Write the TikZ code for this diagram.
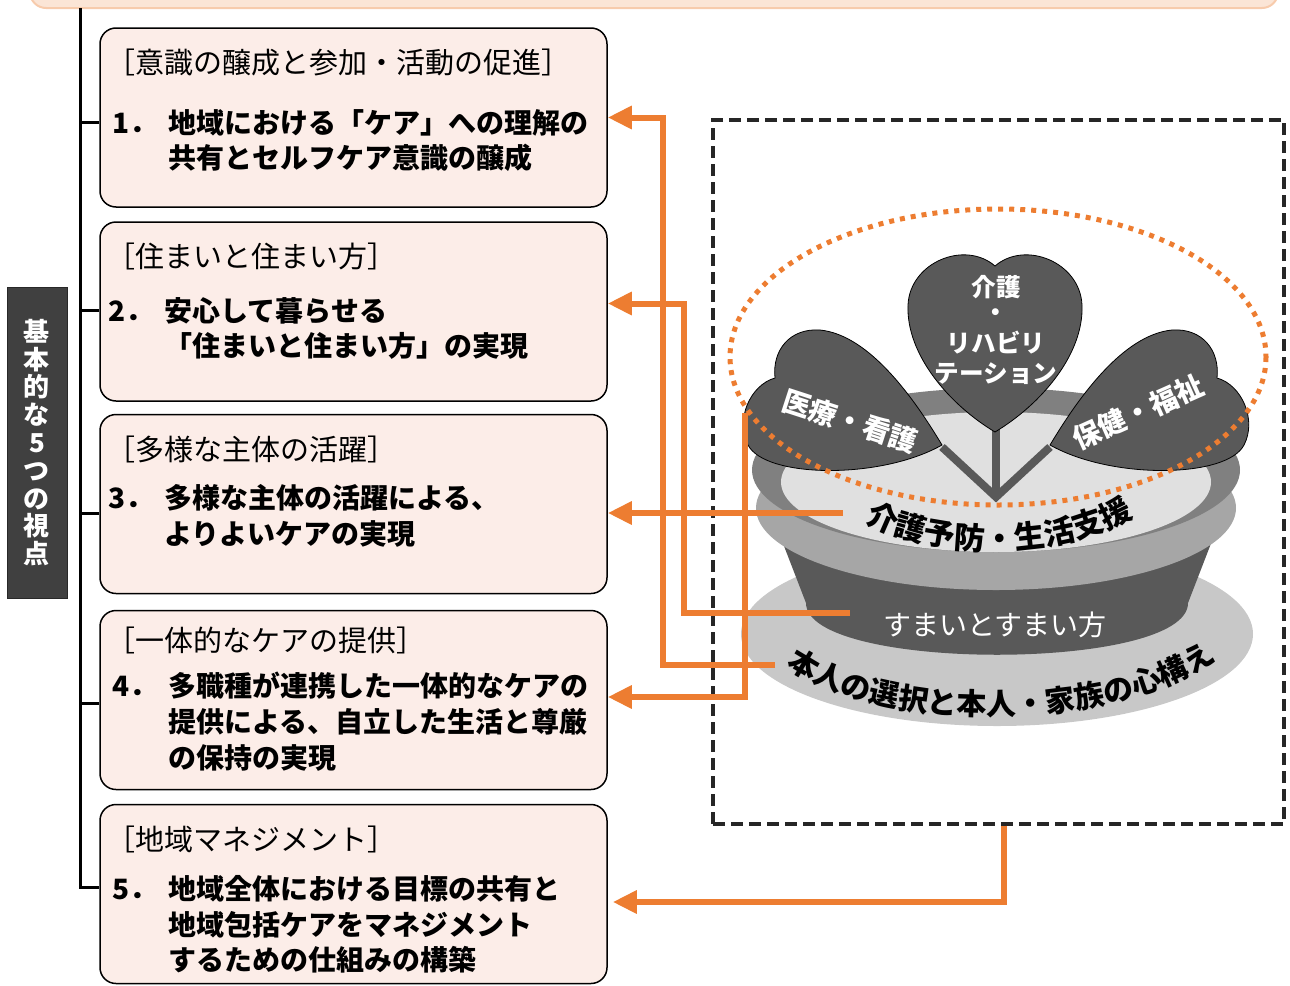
\documentclass[tikz,border=0pt]{standalone}
\usepackage{fontspec}
\setmainfont{Noto Sans CJK JP}
\usetikzlibrary{arrows.meta,calc,decorations.text}
\newcommand{\itemno}[1]{\makebox[2em][l]{#1}}
\newcommand{\indentno}{\hspace*{2em}}

\begin{document}
\begin{tikzpicture}[x=0.5pt,y=0.5pt,yscale=-1,xscale=1,
  box/.style={draw, line width=0.75pt, rounded corners=8pt, fill={rgb, 255:red, 252; green, 237; blue, 232}, minimum width=253.5pt, minimum height=89.5pt, inner sep=0pt},
  head/.style={anchor=west, inner sep=0pt, font=\fontsize{14.5}{16}\selectfont},
  point/.style={anchor=north west, inner sep=0pt, align=left, font=\bfseries\fontsize{14}{17.8}\selectfont},
  spine/.style={line width=1.5pt},
  flow/.style={draw={rgb, 255:red, 237; green, 125; blue, 49}, line width=3pt, -{Triangle[length=12pt,width=11pt]}},
  leaf/.style={fill={rgb, 255:red, 89; green, 89; blue, 89}},
  leaftext/.style={text=white, inner sep=0pt, font=\bfseries\fontsize{14}{14}\selectfont}
]
\useasboundingbox (0,0) rectangle (1290,985);

%Shape: Rounded Rect [banner]
\draw  [draw={rgb, 255:red, 247; green, 203; blue, 172}, fill={rgb, 255:red, 251; green, 229; blue, 214}, rounded corners=8pt, line width=1pt] (30,-40) rectangle (1278,8) ;

%Shape: Rectangle [label]
\node (label) [fill={rgb, 255:red, 64; green, 64; blue, 64}, draw={rgb, 255:red, 40; green, 40; blue, 40}, minimum width=30pt, minimum height=155.5pt, text=white, align=center, font=\bfseries\fontsize{13}{13.9}\selectfont] at (37,442.5) {基\\本\\的\\な\\5\\つ\\の\\視\\点};

%Shape: Rounded Rect [box1 .. box5]
\node (box1) [box] at (353.5,117.5) {};
\node (box2) [box] at (353.5,311.5) {};
\node (box3) [box] at (353.5,504) {};
\node (box4) [box] at (353.5,700) {};
\node (box5) [box] at (353.5,894) {};

%Straight Lines [spine]
\coordinate (top) at (80,8);
\draw  [spine] (top) |- ($(box5.west)+(0,-7)$) ;
\draw  [spine] ($(box1.west)+(0,5)$) -- ++(-20,0) ;
\draw  [spine] ($(box2.west)+(0,-1)$) -- ++(-20,0) ;
\draw  [spine] ($(box3.west)+(0,9)$) -- ++(-20,0) ;
\draw  [spine] ($(box4.west)+(0,3)$) -- ++(-20,0) ;

% Text Node
\node (head1) [head] at (106,62) {［意識の醸成と参加・活動の促進］};
\node (text1) [point] at (112,109) {\itemno{1．}地域における「ケア」への理解の\\\indentno 共有とセルフケア意識の醸成};
% Text Node
\node (head2) [head] at (106,256) {［住まいと住まい方］};
\node (text2) [point] at (108,297) {\itemno{2．}安心して暮らせる\\\indentno「住まいと住まい方」の実現};
% Text Node
\node (head3) [head] at (106,449) {［多様な主体の活躍］};
\node (text3) [point] at (108,484) {\itemno{3．}多様な主体の活躍による、\\\indentno よりよいケアの実現};
% Text Node
\node (head4) [head] at (106,640) {［一体的なケアの提供］};
\node (text4) [point] at (112,672) {\itemno{4．}多職種が連携した一体的なケアの\\\indentno 提供による、自立した生活と尊厳\\\indentno の保持の実現};
% Text Node
\node (head5) [head] at (106,839) {［地域マネジメント］};
\node (text5) [point] at (112,875) {\itemno{5．}地域全体における目標の共有と\\\indentno 地域包括ケアをマネジメント\\\indentno するための仕組みの構築};

%Shape: Rectangle [frame]
\node (frame) [draw={rgb, 255:red, 38; green, 38; blue, 38}, line width=1.7pt, dash pattern={on 6pt off 3pt}, minimum width=285.5pt, minimum height=352pt, inner sep=0pt] at (998.5,472) {};

%Shape: Ellipse [plate]
\draw  [fill={rgb, 255:red, 200; green, 200; blue, 200}, draw=none] (997,634) ellipse [x radius=256, y radius=92] ;
%Shape: Polygon Curved [pot]
\draw  [fill={rgb, 255:red, 89; green, 89; blue, 89}, draw=none] (772,515) -- (806,603) .. controls (806,672) and (1188,672) .. (1188,603) -- (1222,515) -- cycle ;
%Shape: Ellipse [rim side]
\draw  [fill={rgb, 255:red, 166; green, 166; blue, 166}, draw=none] (996,508) ellipse [x radius=240, y radius=82] ;
%Shape: Ellipse [rim top]
\draw  [fill={rgb, 255:red, 128; green, 128; blue, 128}, draw=none] (996,470) ellipse [x radius=244, y radius=82] ;
%Shape: Ellipse [soil]
\draw  [fill={rgb, 255:red, 224; green, 224; blue, 224}, draw=none] (996,482) ellipse [x radius=215, y radius=70] ;

%Curve Lines [soil text]
\path  [decorate, decoration={text along path, text align=center, text={|\bfseries\fontsize{15.5}{15.5}\selectfont|介護予防・生活支援}}] (852,514) .. controls (925,563) and (1070,563) .. (1146,508) ;
% Text Node
\node (potText) [text=white, inner sep=0pt, font=\fontsize{14}{14}\selectfont] at (995,625) {すまいとすまい方};
%Curve Lines [plate text]
\path  [decorate, decoration={text along path, text align=center, text={|\bfseries\fontsize{15}{15}\selectfont|本人の選択と本人・家族の心構え}}] (770,652) .. controls (850,738) and (1140,738) .. (1232,645) ;

%Straight Lines [stems]
\draw  [draw={rgb, 255:red, 89; green, 89; blue, 89}, line width=4pt] (942,447) -- (996,497) -- (1050,447) ;
\draw  [draw={rgb, 255:red, 89; green, 89; blue, 89}, line width=4pt] (996,420) -- (996,497) ;

%Shape: Heart [leaves]
\draw  [leaf] (942,445) .. controls (915,400) and (870,335) .. (820,330) .. controls (790,328) and (772,350) .. (775,378) .. controls (750,385) and (735,420) .. (748,445) .. controls (765,478) and (880,480) .. (942,445) -- cycle ;
\draw  [leaf] (1050,445) .. controls (1077,400) and (1122,335) .. (1172,330) .. controls (1202,328) and (1220,350) .. (1217,378) .. controls (1242,385) and (1257,420) .. (1244,445) .. controls (1227,478) and (1112,480) .. (1050,445) -- cycle ;
\draw  [leaf] (995,432) .. controls (950,405) and (906,355) .. (908,305) .. controls (910,262) and (965,240) .. (995,266) .. controls (1025,240) and (1080,262) .. (1082,305) .. controls (1084,355) and (1040,405) .. (995,432) -- cycle ;

% Text Node
\node (leafMid) [leaftext, align=center, font=\bfseries\fontsize{12.3}{15}\selectfont] at (996,330) {介護\\[-2.5pt]・\\[0.5pt]リハビリ\\テーション};
\node (leafLeft) [leaftext, rotate=-18] at (850,421) {医療・看護};
\node (leafRight) [leaftext, rotate=24] at (1138,412) {保健・福祉};

%Shape: Ellipse [dotted ring]
\draw  [draw={rgb, 255:red, 237; green, 125; blue, 49}, line width=2.5pt, dash pattern={on 2.5pt off 3pt}] (998,357) ellipse [x radius=268, y radius=148] ;

%Straight Lines [arrows]
\coordinate (plate) at (775,665);
\coordinate (pot) at (850,613);
\coordinate (soil) at (843,513);
\coordinate (leafL) at (745,413);
\draw  [flow] (plate) -| ($(box1.east)+(55,0)$) -- (box1.east) ;
\draw  [flow] (pot) -| ($(box2.east)+(76,-8)$) -- ($(box2.east)+(0,-8)$) ;
\draw  [flow] (soil) -- (box3.east |- soil) ;
\draw  [flow] (leafL) |- ($(box4.east)+(0,-3)$) ;
\draw  [flow] ($(frame.south)+(5,0)$) |- ($(box5.east)+(5,8)$) ;

\end{tikzpicture}
\end{document}
